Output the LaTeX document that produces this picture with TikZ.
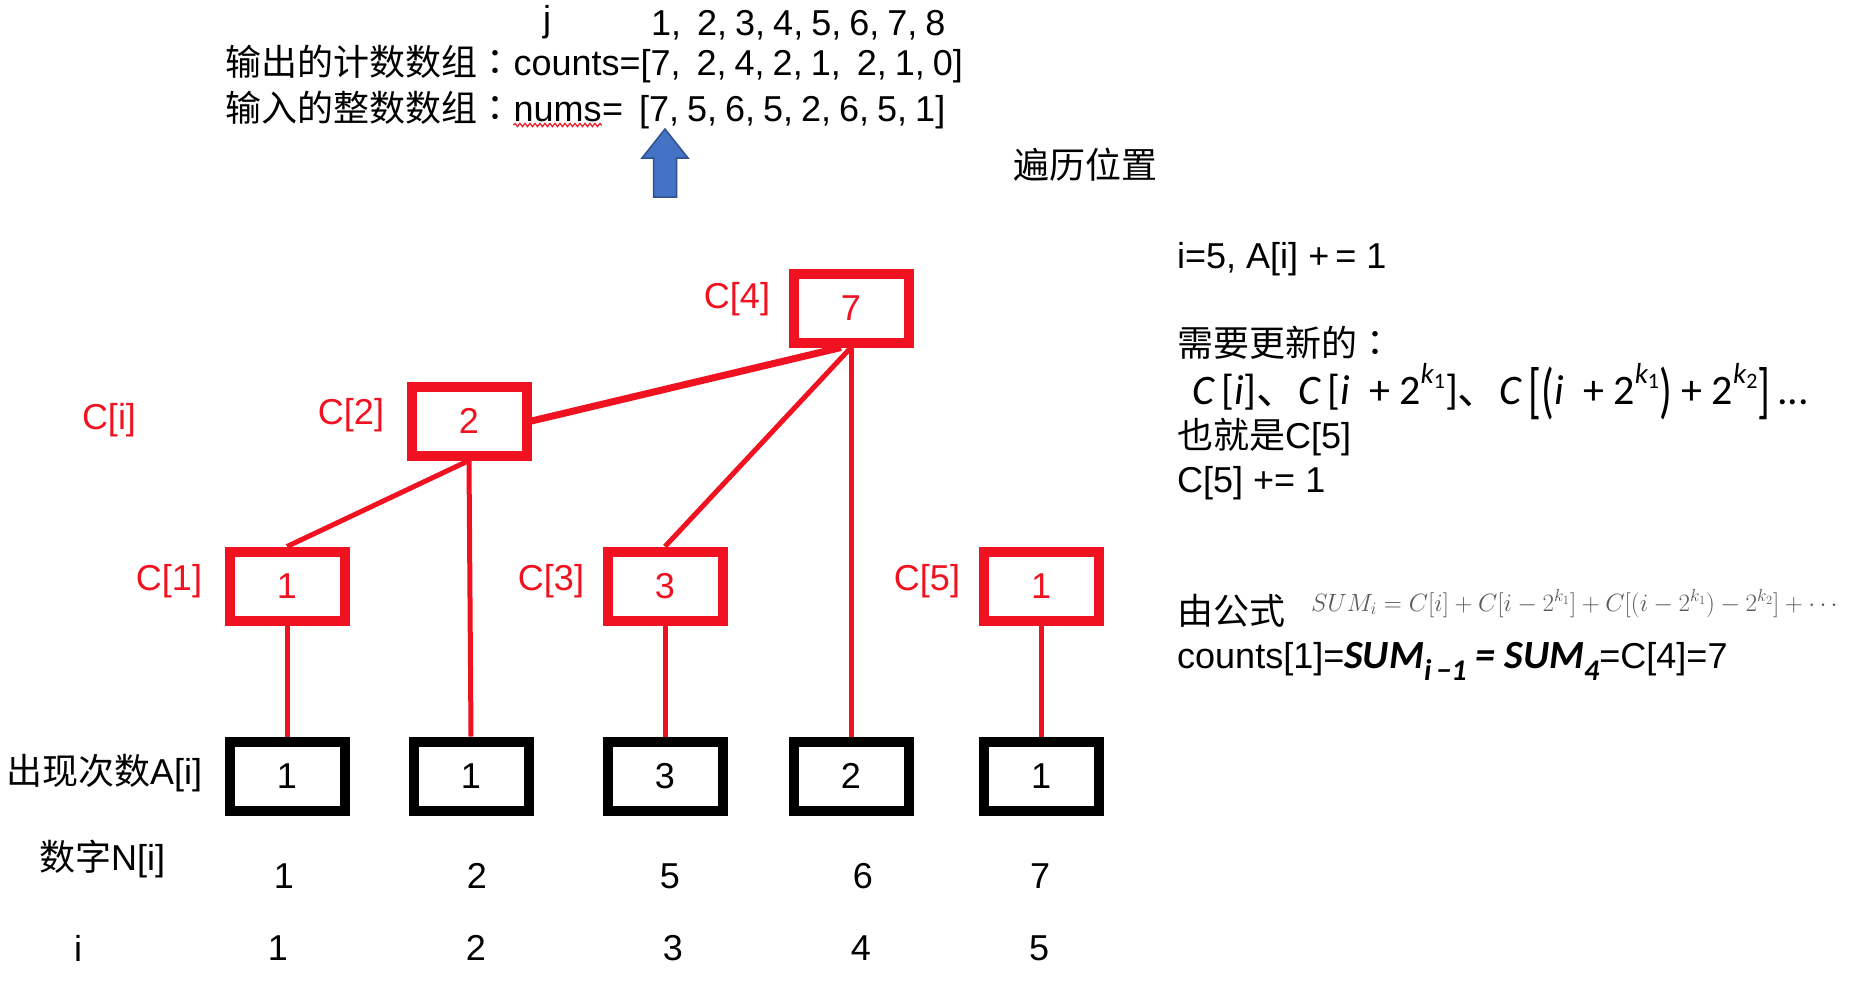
\RequirePackage{fix-cm}
\documentclass[tikz,border=0pt]{standalone}
\usepackage{fontspec}
\usepackage{amsmath}
\usepackage{graphicx}
\setmainfont{Liberation Sans}
\newfontfamily\cjk{Noto Sans CJK SC}
\newfontfamily\cjktc{Noto Sans CJK TC}
\newfontfamily\carl{Carlito}
\usetikzlibrary{decorations.pathmorphing,backgrounds}
\definecolor{rc}{RGB}{240,18,32}
\definecolor{bfill}{RGB}{68,114,196}
\definecolor{bline}{RGB}{47,82,143}
\newcommand{\sk}{\hspace{8pt}}
\newcommand{\mi}[1]{{\carl\itshape #1}}
\newcommand{\sups}[2]{\raisebox{0.5em}{\fontsize{29}{32}\selectfont\mi{#1}\raisebox{-0.18em}{\fontsize{22}{24}\selectfont\carl #2}}}
\newcommand{\bigbr}[1]{\raisebox{-0.17em}{\scalebox{1}[1.45]{\carl #1}}}
\newcommand{\subs}[1]{\raisebox{-0.3em}{\fontsize{30}{32}\selectfont #1}}
\begin{document}
\begin{tikzpicture}[x=1pt,y=-1pt,
  every node/.style={inner sep=0pt, font=\fontsize{36}{43}\selectfont},
  txt/.style={anchor=base west},
  rbox/.style={draw=rc, line width=10pt, minimum width=115pt, minimum height=69pt, text=rc},
  kbox/.style={draw=black, line width=10pt, minimum width=115pt, minimum height=69pt},
  rlabel/.style={text=rc},
  link/.style={draw=rc, line width=5pt}]
\useasboundingbox (0,0) rectangle (1874,1002);

% top text
\node (j) at (547,22) {j};
\node[txt] (jvals) at (651,35) {1,\sk\sk 2,\sk 3,\sk 4,\sk 5,\sk 6,\sk 7,\sk 8};
\node[txt] (l2a) at (225,75) {{\cjk 输出的计数数组}{\cjktc ：}};
\node[txt] (l2b) at (l2a.base east) {counts=[7,\sk\sk 2,\sk 4,\sk 2,\sk 1,\sk\sk 2,\sk 1,\sk 0]};
\node[txt] (l3a) at (225,121) {{\cjk 输入的整数数组}{\cjktc ：}};
\node[txt] (nums) at (l3a.base east) {nums};
\node[txt] (l3c) at (nums.base east) {=\sk\sk [7,\sk 5,\sk 6,\sk 5,\sk 2,\sk 6,\sk 5,\sk 1]};
\draw[rc, line width=1.2pt, decorate, decoration={snake, amplitude=1.6pt, segment length=5pt}]
  ([yshift=-4pt]nums.base west) -- ([yshift=-4pt]nums.base east);

% blue arrow
\coordinate (tip) at (665,129);
\draw[bline, fill=bfill, line width=1.5pt] (tip) -- ++(23,29) -- ++(-11.5,0) -- ++(0,39)
  -- ++(-23,0) -- ++(0,-39) -- ++(-11.5,0) -- cycle;
\node[txt] (pos) at (1013,178) {\cjk 遍历位置};

% tree
\node[rbox] (c4) at (851,308) {7};
\node[rbox] (c2) at (469,421) {2};
\node[rbox] (c1) at (287,586) {1};
\node[rbox] (c3) at (665,586) {3};
\node[rbox] (c5) at (1041,586) {1};
\node[kbox] (a1) at (287,776) {1};
\node[kbox] (a2) at (471,776) {1};
\node[kbox] (a3) at (665,776) {3};
\node[kbox] (a4) at (851,776) {2};
\node[kbox] (a5) at (1041,776) {1};

\node[rlabel] (lc4) at (737,299) {C[4]};
\node[rlabel] (lc2) at (351,415) {C[2]};
\node[rlabel] (lc1) at (169,581) {C[1]};
\node[rlabel] (lc3) at (551,581) {C[3]};
\node[rlabel] (lc5) at (927,581) {C[5]};
\node[rlabel] (lci) at (109,420) {C[i]};

\begin{scope}[on background layer]
\draw[link, line width=7pt] ([xshift=-10pt]c4.south) -- (c2.east);
\draw[link] (c4.south) -- (c3.north);
\draw[link] (c4.south) -- (a4.north);
\draw[link] (c2.south) -- (c1.north);
\draw[link] (c2.south) -- (a2.north);
\draw[link] (c1.south) -- (a1.north);
\draw[link] (c3.south) -- (a3.north);
\draw[link] (c5.south) -- (a5.north);
\end{scope}

% bottom rows
\node[txt] (ai) at (6,784) {{\cjk 出现次数}A[i]};
\node[txt] (ni) at (39,870) {{\cjk 数字}N[i]};
\node (n1) at (284,876) {1};
\node (n2) at (477,876) {2};
\node (n3) at (670,876) {5};
\node (n4) at (863,876) {6};
\node (n5) at (1040,876) {7};
\node (irow) at (78,948) {i};
\node (i1) at (278,948) {1};
\node (i2) at (476,948) {2};
\node (i3) at (673,948) {3};
\node (i4) at (861,948) {4};
\node (i5) at (1039,948) {5};

% right text
\node[txt] (r1) at (1177,268) {i=5, A[i] +\,= 1};
\node[txt] (r2) at (1177,356) {{\cjk 需要更新的}{\cjktc ：}};
\node[txt, font=\fontsize{42}{48}\selectfont] (r3) at (1192,404)
  {\carl\mi{C}\,[\mi{i}]{\cjk 、}\mi{C}\,[\mi{i}\ \ +\ 2\sups{k}{1}]{\cjk 、}\mi{C}\,\bigbr{[}\bigbr{(}\mi{i}\ \ +\ 2\sups{k}{1}\bigbr{)}\ +\ 2\sups{k}{2}\bigbr{]}\,...};
\node[txt] (r4) at (1177,448) {{\cjk 也就是}C[5]};
\node[txt] (r5) at (1177,492) {C[5] += 1};
\node[txt] (r6) at (1177,624) {\cjk 由公式};
\node[txt, font=\fontsize{25}{29}\selectfont, text=black!65] (r7) at (1311,611)
  {$SUM_i = C[i] + C[i-2^{k_1}] + C[(i-2^{k_1})-2^{k_2}] + \cdots$};
\node[txt] (r8) at (1177,668) {counts[1]={\carl\bfseries\itshape\fontsize{40}{46}\selectfont SUM\subs{\mi{i}\,−1}\ =\ SUM\subs{4}}=C[4]=7};
\end{tikzpicture}
\end{document}
